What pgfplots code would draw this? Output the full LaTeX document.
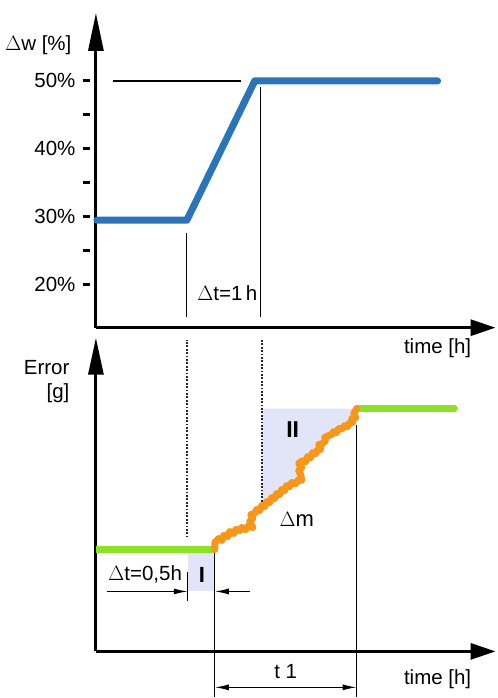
\documentclass[border=0pt]{standalone}
\usepackage{pgfplots}
\pgfplotsset{compat=1.18}
\usepackage{fontspec}
\setmainfont{Liberation Sans}
\usetikzlibrary{arrows.meta}
\definecolor{lblue}{RGB}{43,116,184}
\definecolor{lgreen}{RGB}{140,225,40}
\definecolor{lorange}{RGB}{248,150,25}
\definecolor{lav}{RGB}{226,228,248}
\begin{document}
\begin{tikzpicture}[x=1pt,y=1pt,font=\fontsize{20.5}{24}\selectfont]
\path (0,0) rectangle (496,698);
% ---------------- top panel ----------------
\begin{axis}[
  at={(96pt,370pt)}, anchor=origin,
  scale only axis, width=400pt, height=315pt,
  xmin=0, xmax=400, ymin=13.68, ymax=60,
  enlargelimits=false, clip=false,
  axis lines=left,
  axis line style={line width=3pt},
  x axis line style={-{Triangle[length=25pt,width=16pt]}},
  y axis line style={-{Triangle[length=38pt,width=15pt]}},
  xtick=\empty,
  ytick={20,25,30,35,40,45,50},
  yticklabels={20\%,,30\%,,40\%,,50\%},
  tick align=outside,
  major tick length=7pt,
  major tick style={line width=3pt, black, xshift=-6pt},
  yticklabel style={xshift=-10pt},
  /pgf/number format/assume math mode=true,
]
\addplot[black, line width=1.3pt] coordinates {(17,50) (145,50)};
\addplot[lblue, line width=7pt, line join=round, line cap=round] coordinates {(1,29.5) (91,29.5) (159,50) (342,50)};
\draw[black, line width=1.3pt] (axis cs:165,49.1) -- (axis cs:165,15.3);
\draw[black, line width=1.3pt] (axis cs:91,27.6) -- (axis cs:91,15.3);
\node[anchor=west] at (axis cs:98,18.8) {$\Delta$t=1\,h};
\node[anchor=east] at (axis cs:-21,55.3) {$\Delta$w [\%]};
\node at (axis cs:342,10.6) {time [h]};
\end{axis}
% ---------------- bottom panel ----------------
\begin{axis}[
  at={(96pt,46pt)}, anchor=origin,
  scale only axis, width=400pt, height=314pt,
  xmin=0, xmax=400, ymin=0, ymax=314,
  enlargelimits=false, clip=false,
  axis lines=left,
  axis line style={line width=3pt},
  x axis line style={-{Triangle[length=25pt,width=16pt]}},
  y axis line style={-{Triangle[length=37pt,width=15pt]}},
  xtick=\empty, ytick=\empty,
]
% shaded regions
\addplot[fill=lav, draw=none] coordinates {(92,102) (119,102) (119,60) (92,60)};
\addplot[fill=lav, draw=none] coordinates {(166,243) (166,146) (169,145) (171,150) (174,149) (176,154) (179,153) (181,158) (184,157) (186,162) (189,161) (191,166) (194,165) (196,169) (200,168) (203,172) (206,171) (205,177) (203,181) (206,184) (203,188) (207,191) (210,190) (212,195) (215,194) (217,199) (220,198) (222,202) (225,202) (223,207) (227,208) (230,211) (229,214) (233,216) (236,217) (238,220) (241,219) (243,223) (247,223) (249,226) (252,225) (254,229) (257,229) (256,233) (260,234) (258,238) (261,243)};
% dotted lines
\draw[black!85, line width=1.6pt, dash pattern=on 1.8pt off 1.6pt] (axis cs:91,114) -- (axis cs:91,312);
\draw[black!85, line width=1.6pt, dash pattern=on 1.8pt off 1.6pt] (axis cs:166,150) -- (axis cs:166,312);
% solid vertical lines
\draw[black, line width=1.3pt] (axis cs:119,102) -- (axis cs:119,-46);
\draw[black, line width=1.3pt] (axis cs:261,227) -- (axis cs:261,-46);
\draw[black, line width=1.3pt] (axis cs:92,79) -- (axis cs:92,50);
% dimension arrows
\draw[black, line width=1.3pt, -{Latex[length=14pt,width=6pt]}] (axis cs:11,60) -- (axis cs:92,60);
\draw[black, line width=1.3pt, -{Latex[length=14pt,width=6pt]}] (axis cs:154,60) -- (axis cs:119,60);
\draw[black, line width=1.3pt, {Latex[length=14pt,width=6pt]}-{Latex[length=14pt,width=6pt]}] (axis cs:119,-36) -- (axis cs:261,-36);
% lines
\addplot[lgreen, line width=6.5pt] coordinates {(0,102) (119,102)};
\addplot[lgreen, line width=6.5pt, line cap=round] coordinates {(261,243) (359,243)};
\addplot[lorange, line width=7pt, line join=round, line cap=round] coordinates {(119,102) (119,109) (123,113) (126,111) (128,116) (132,115) (134,120) (138,118) (140,122) (144,121) (146,124) (150,122) (153,126) (157,124) (154,130) (157,133) (155,137) (159,138) (161,142) (164,141) (166,146) (169,145) (171,150) (174,149) (176,154) (179,153) (181,158) (184,157) (186,162) (189,161) (191,166) (194,165) (196,169) (200,168) (203,172) (206,171) (205,177) (203,181) (206,184) (203,188) (207,191) (210,190) (212,195) (215,194) (217,199) (220,198) (222,202) (225,202) (223,207) (227,208) (230,211) (229,214) (233,216) (236,217) (238,220) (241,219) (243,223) (247,223) (249,226) (252,225) (254,229) (257,229) (256,233) (260,234) (258,238) (261,243)};
% texts
\node[font=\fontsize{22}{26}\selectfont\bfseries] at (axis cs:106,77) {I};
\node[font=\fontsize{23}{27}\selectfont\bfseries] at (axis cs:197,222) {II};
\node[font=\fontsize{22}{26}\selectfont] at (axis cs:201,132) {$\Delta$m};
\node[anchor=west] at (axis cs:9,77) {$\Delta$t=0,5h};
\node at (axis cs:190,-20) {t 1};
\node at (axis cs:342,-28) {time [h]};
\node[anchor=east, align=right] at (axis cs:-23,270) {Error\\\relax [g]};
\end{axis}
\end{tikzpicture}
\end{document}
